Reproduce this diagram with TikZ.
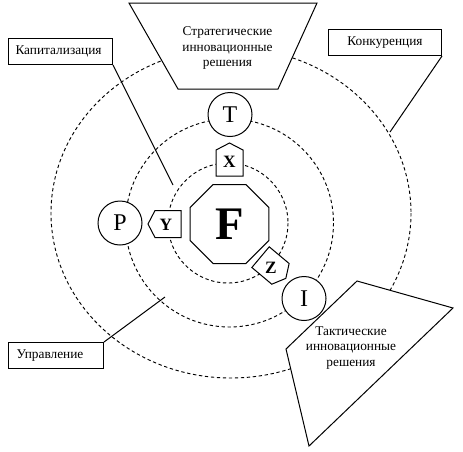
\documentclass[tikz,border=0pt]{standalone}
\usepackage{fontspec}
\setmainfont{Liberation Serif}
\usetikzlibrary{shapes.geometric}
\begin{document}
\begin{tikzpicture}[x=0.75pt,y=-0.75pt, line width=0.75pt,
  orbit/.style={dash pattern=on 2.5pt off 2pt, line width=0.7pt},
  lbl/.style={draw, fill=white, minimum height={26*0.75pt}, inner ysep=0pt, font=\fontsize{10}{12}\selectfont},
  planet/.style={circle, draw, fill=white, minimum size={44*0.75pt}, inner sep=0pt, font=\fontsize{18}{18}\selectfont},
  hs/.style={font=\bfseries\fontsize{13}{13}\selectfont, inner sep=0pt},
  multi/.style={align=center, font=\fontsize{10}{11.6}\selectfont, inner sep=0pt},
  shapeline/.style={draw, fill=white},
  house/.pic={\draw[shapeline] (-13.5,13) -- (13.5,13) -- (13.5,-13) -- (0,-20) -- (-13.5,-13) -- cycle;}
]
\useasboundingbox (0,0) rectangle (463,451);

% orbits
\draw[orbit] (231,213) ellipse [x radius=180, y radius=165];
\draw[orbit] (229.5,223) circle [radius=104];
\draw[orbit] (228,223) circle [radius=60];

% label boxes
\node[lbl, anchor=north west, minimum width={104*0.75pt}, inner xsep={7*0.75pt}, text width={90*0.75pt}, align=left] (kap) at (8,38) {Капитализация};
\node[lbl, anchor=north west, minimum width={113*0.75pt}, inner xsep=0pt, text width={113*0.75pt}, align=center] (kon) at (328,29) {Конкуренция};
\node[lbl, anchor=north west, minimum width={95*0.75pt}, inner xsep={8*0.75pt}, text width={79*0.75pt}, align=left] (upr) at (8,342) {Управление};

% connector end points
\coordinate (k1) at (173,185);
\coordinate (c1) at (390,132);
\coordinate (u1) at (165,297);
\draw (kap.south east) -- (k1);
\draw (kon.south east) -- (c1);
\draw (upr.north east) -- (u1);

% decision shapes
\draw[shapeline] (129,3) -- (317,3) -- (278,89) -- (178,89) -- cycle;
\node[multi] (strat) at (227.5,48) {Стратегические\\инновационные\\решения};
\draw[shapeline] (357,281) -- (453,308) -- (309,446) -- (286,349) -- cycle;
\node[multi] (takt) at (351,348) {Тактические\\инновационные\\решения};

% core
\node[regular polygon, regular polygon sides=8, draw, fill=white, minimum size={85.5*0.75pt}, inner sep=0pt, font=\bfseries\fontsize{35}{35}\selectfont] (F) at (229.5,224) {F};

% planets
\node[planet] (T) at (230,114.5) {T};
\node[planet] (P) at (120,223) {P};
\node[planet] (I) at (304,298.5) {I};

% houses
\pic at (229.5,163) {house};
\pic[rotate=90] at (168,224) {house};
\pic[rotate=-130] at (270.5,265.5) {house};
\node[hs] (X) at (229.5,162) {X};
\node[hs] (Y) at (166,225) {Y};
\node[hs] (Z) at (271,268) {Z};
\end{tikzpicture}
\end{document}
